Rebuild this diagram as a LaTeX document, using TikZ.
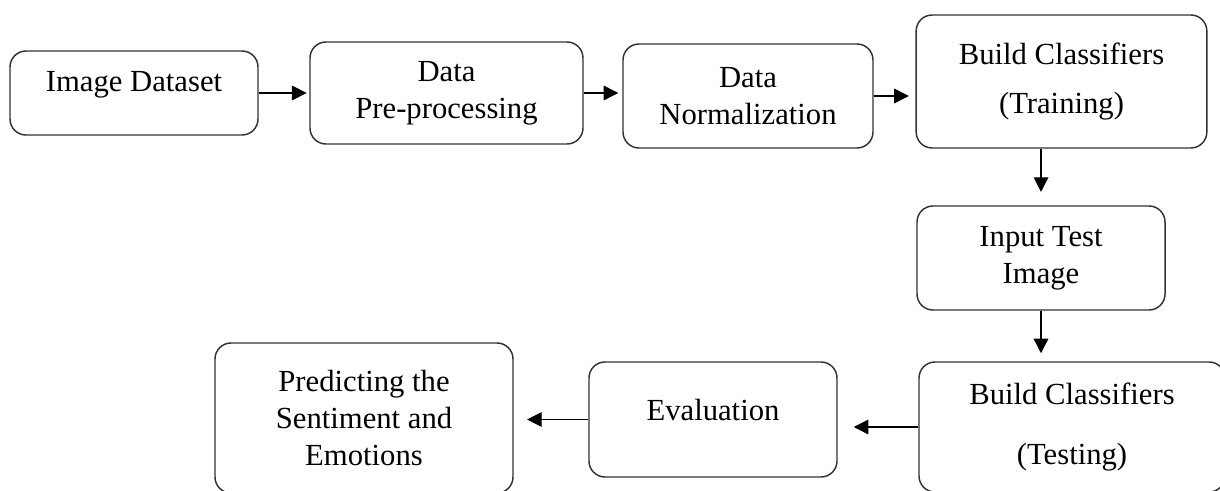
\documentclass[tikz,border=0pt]{standalone}
\usepackage{fontspec}
\setmainfont{Liberation Serif}
\usetikzlibrary{arrows.meta}

\begin{document}
\begin{tikzpicture}
	[x=0.75pt,y=-0.75pt,
	every node/.style={rectangle,rounded corners=12pt,draw=black!80,line width=1.1pt,inner sep=0pt,align=center,font=\fontsize{23}{28}\selectfont},
	flow/.style={-{Triangle[length=11pt,width=11pt]},line width=1pt}]
	\useasboundingbox (0,0) rectangle (1220,491);
	\clip (0,0) rectangle (1220,491);
	\node (data) [minimum width=186pt,minimum height=63pt] at (134,93) {\raisebox{6pt}[\height][\depth]{Image Dataset}};
	\node (pre) [minimum width=204.75pt,minimum height=76.5pt] at (446.5,93) {Data\\Pre-processing};
	\node (norm) [minimum width=187.5pt,minimum height=78pt] at (748,96) {Data\\Normalization};
	\node (train) [minimum width=218pt,minimum height=99.75pt] at (1061.5,81.5) {Build Classifiers\\[9pt](Training)};
	\node (input) [minimum width=186pt,minimum height=78pt] at (1041,258) {Input Test\\Image};
	\node (test) [minimum width=229.5pt,minimum height=97.5pt] at (1072,427) {Build Classifiers\\[17pt](Testing)};
	\node (eval) [minimum width=186pt,minimum height=86.25pt] at (713,419.5) {\raisebox{7pt}[\height][\depth]{Evaluation}};
	\node (pred) [minimum width=223.5pt,minimum height=112.5pt] at (364,418) {Predicting the\\Sentiment and\\Emotions};
	\draw [flow,shorten >=2pt] (data.east) -- (data.east -| pre.west);
	\draw [flow,shorten >=3pt] (pre.east) -- (pre.east -| norm.west);
	\draw [flow,shorten >=5pt] (norm.east) -- (norm.east -| train.west);
	\draw [flow,shorten >=10pt] (input.north |- train.south) -- (input.north);
	\draw [flow,shorten >=6pt] (input.south) -- (input.south |- test.north);
	\draw [flow,shorten >=12pt] (test.west) -- (test.west -| eval.east);
	\draw [flow,shorten >=10pt] (eval.west) -- (eval.west -| pred.east);
\end{tikzpicture}
\end{document}
